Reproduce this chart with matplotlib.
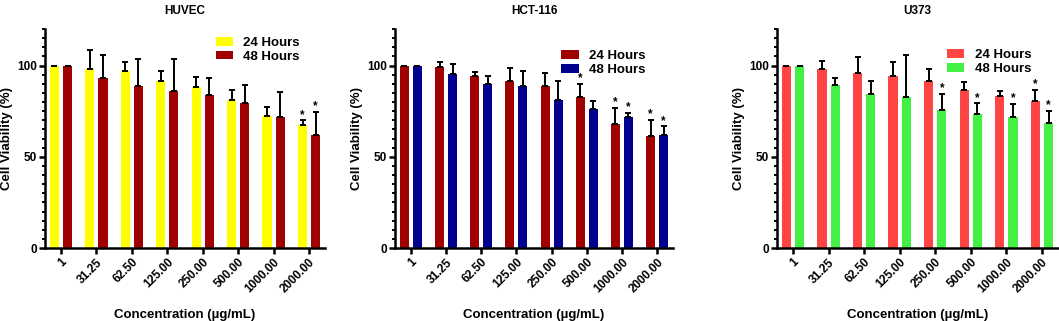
import numpy as np
import matplotlib
matplotlib.use('Agg')
import matplotlib.pyplot as plt
from matplotlib.ticker import MultipleLocator

plt.rcParams['font.family'] = ['Liberation Sans', 'DejaVu Sans']
plt.rcParams['font.weight'] = 'bold'

# 농도 (x 축 라벨)
concentrations = ['1', '31.25', '62.50', '125.00', '250.00', '500.00', '1000.00', '2000.00']
series_names = ['24 Hours', '48 Hours']

# HUVEC
huvec_24 = [100, 98, 97, 91.5, 88, 81, 72.3, 67.6]
huvec_24_err = [0, 10.6, 5.2, 5.4, 5.5, 5.6, 5.0, 2.4]
huvec_48 = [100, 93, 88.6, 86.3, 83.6, 79.4, 71.8, 61.7]
huvec_48_err = [0, 13.0, 15.0, 17.2, 9.8, 10.0, 13.7, 13.0]
huvec_star_24 = [7]
huvec_star_48 = [7]

# HCT-116
hct_24 = [100, 99.4, 94.2, 91.4, 88.7, 82.5, 67.9, 61.3]
hct_24_err = [0, 2.4, 2.3, 7.1, 7.1, 7.5, 9.1, 9.0]
hct_48 = [100, 95.6, 89.8, 89.0, 81.0, 76.1, 71.6, 61.7]
hct_48_err = [0, 5.5, 4.6, 8.2, 10.5, 4.7, 2.6, 5.1]
hct_star_24 = [5, 6, 7]
hct_star_48 = [6, 7]

# U373
u373_24 = [100, 98, 95.8, 94.3, 91.4, 86.6, 83.2, 80.4]
u373_24_err = [0, 4.4, 9.1, 7.7, 6.8, 4.4, 2.9, 6.2]
u373_48 = [100, 89.6, 84.2, 83.0, 75.6, 73.3, 71.6, 68.7]
u373_48_err = [0, 3.4, 7.6, 22.9, 9.0, 6.0, 7.5, 6.4]
u373_star_24 = [7]
u373_star_48 = [4, 5, 6, 7]

panels = [
    ('HUVEC', huvec_24, huvec_24_err, huvec_48, huvec_48_err,
     huvec_star_24, huvec_star_48, ['#ffff00', '#a00000'],
     [0.0425, 0.2274, 0.2644, 0.682], (0.76, 0.905)),
    ('HCT-116', hct_24, hct_24_err, hct_48, hct_48_err,
     hct_star_24, hct_star_48, ['#a00000', '#00008f'],
     [0.373, 0.2274, 0.2625, 0.682], (0.75, 0.845)),
    ('U373', u373_24, u373_24_err, u373_48, u373_48_err,
     u373_star_24, u373_star_48, ['#ff4444', '#44f044'],
     [0.7337, 0.2274, 0.2653, 0.682], (0.755, 0.85)),
]

fig = plt.figure(figsize=(10.59, 3.21), dpi=100)

x = np.arange(len(concentrations))
width = 0.26
offset = 0.185

for title, v24, e24, v48, e48, s24, s48, colors, rect, leg_pos in panels:
    ax = fig.add_axes(rect)
    v24 = np.array(v24)
    v48 = np.array(v48)
    e24 = np.array(e24)
    e48 = np.array(e48)

    ax.bar(x - offset, v24, width, color=colors[0], label=series_names[0],
           yerr=[np.zeros_like(e24), e24], capsize=2.2,
           error_kw=dict(elinewidth=1.4, capthick=1.4, ecolor='black'))
    ax.bar(x + offset, v48, width, color=colors[1], label=series_names[1],
           yerr=[np.zeros_like(e48), e48], capsize=2.2,
           error_kw=dict(elinewidth=1.4, capthick=1.4, ecolor='black'))

    # 유의성 표시
    for i in s24:
        ax.text(x[i] - offset, v24[i] + e24[i] - 0.3, '*', ha='center', va='bottom',
                fontsize=8.5, fontweight='bold')
    for i in s48:
        ax.text(x[i] + offset, v48[i] + e48[i] - 0.3, '*', ha='center', va='bottom',
                fontsize=8.5, fontweight='bold')

    ax.set_xlim(-0.45, 7.45)
    ax.set_ylim(0, 120)
    ax.set_yticks([0, 50, 100])
    ax.yaxis.set_minor_locator(MultipleLocator(5))
    ax.set_xticks(x)
    ax.set_xticklabels(concentrations, rotation=45, ha='right', rotation_mode='anchor',
                       fontsize=8.5, fontweight='bold')
    for lab in ax.get_yticklabels():
        lab.set_fontsize(8.5)
        lab.set_fontweight('bold')

    for side in ['top', 'right']:
        ax.spines[side].set_visible(False)
    for side in ['left', 'bottom']:
        ax.spines[side].set_linewidth(1.8)
    ax.tick_params(axis='both', which='major', width=1.8, length=4, pad=2)
    ax.tick_params(axis='y', which='minor', width=1.4, length=2.5)

    ax.set_title(title, fontsize=8.5, fontweight='bold', pad=11)
    ax.set_xlabel('Concentration (µg/mL)', fontsize=9.5, fontweight='bold', labelpad=10)
    ax.set_ylabel('Cell Viability (%)', fontsize=9.5, fontweight='bold', labelpad=3)

    ax.legend(loc='center', bbox_to_anchor=leg_pos, frameon=False,
              prop=dict(weight='bold', size=9.5), handlelength=1.3, handleheight=0.65,
              handletextpad=0.8, labelspacing=0.12, borderpad=0)

fig.savefig('out.png', dpi=100)
